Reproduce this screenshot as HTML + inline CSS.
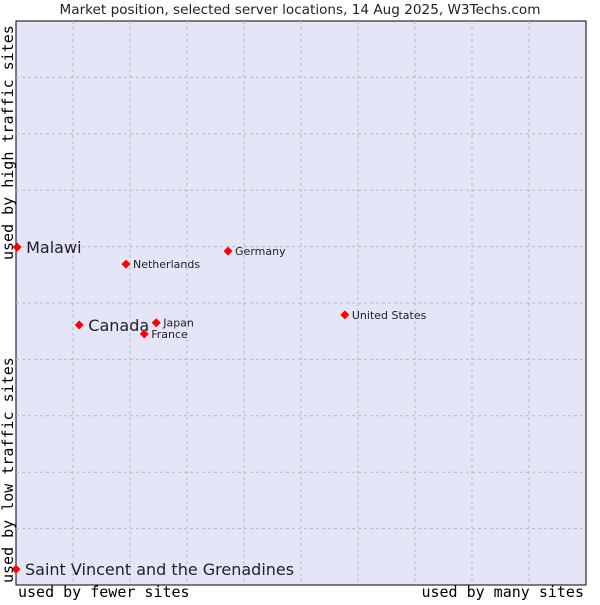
<!DOCTYPE html>
<html><head><meta charset="utf-8"><style>
body{margin:0;background:#fff;}
svg text{font-family:"DejaVu Sans","Liberation Sans",sans-serif;fill:#222;}
.mono{font-family:"DejaVu Sans Mono","Liberation Mono",monospace;fill:#000;}
</style></head><body>
<svg width="600" height="600" id="chart">
<text x="300" y="14" text-anchor="middle" font-size="13.6">Market position, selected server locations, 14 Aug 2025, W3Techs.com</text>
<rect x="16" y="21" width="570" height="564" fill="#e4e6f8" stroke="#000" stroke-width="1"/>
<g id="grid"></g>
<g id="marks"></g>
<text class="mono" x="18" y="597" font-size="15">used by fewer sites</text>
<text class="mono" x="584" y="597" font-size="15" text-anchor="end">used by many sites</text>
<text class="mono" transform="translate(13,260) rotate(-90)" font-size="15">used by high traffic sites</text>
<text class="mono" transform="translate(13,583) rotate(-90)" font-size="15">used by low traffic sites</text>
</svg>
<script>
const names=["Malawi","Netherlands","Germany","United States","Canada","Japan","France","Saint Vincent and the Grenadines"];
const xs=[0.2,19.3,37.2,57.7,11.1,24.6,22.5,0];
const ys=[59.9,56.9,59.2,47.9,46.1,46.5,44.5,2.8];
const big=[true,false,false,false,true,false,false,true];
const L=16,R=586,T=21,B=585;
const sx=v=>L+v/100*(R-L), sy=v=>B-v/100*(B-T);
const NS="http://www.w3.org/2000/svg";
const grid=document.getElementById('grid'), marks=document.getElementById('marks');
for(let i=1;i<10;i++){
  const v=document.createElementNS(NS,'line');
  
  
  v.setAttribute('x1',sx(i*10));v.setAttribute('x2',sx(i*10));v.setAttribute('y1',T);v.setAttribute('y2',B);
  v.setAttribute('stroke','#b8b8b8');v.setAttribute('stroke-dasharray','3,3');grid.appendChild(v);
  const h=document.createElementNS(NS,'line');
  
  
  h.setAttribute('x1',L);h.setAttribute('x2',R);h.setAttribute('y1',sy(i*10));h.setAttribute('y2',sy(i*10));
  h.setAttribute('stroke','#b8b8b8');h.setAttribute('stroke-dasharray','3,3');grid.appendChild(h);
}
names.forEach((n,i)=>{
  const x=sx(xs[i]),y=sy(ys[i]);
  const p=document.createElementNS(NS,'path');
  
  
  p.setAttribute('d',`M${x-4.5},${y} L${x},${y-4.5} L${x+4.5},${y} L${x},${y+4.5} Z`);
  p.setAttribute('fill','#f00');marks.appendChild(p);
  const t=document.createElementNS(NS,'text');
  
  
  t.setAttribute('x',x+(big[i]?9:7));t.setAttribute('y',y+(big[i]?6:4));
  t.setAttribute('font-size',big[i]?16:11);t.textContent=n;marks.appendChild(t);
});
</script>
</body></html>
